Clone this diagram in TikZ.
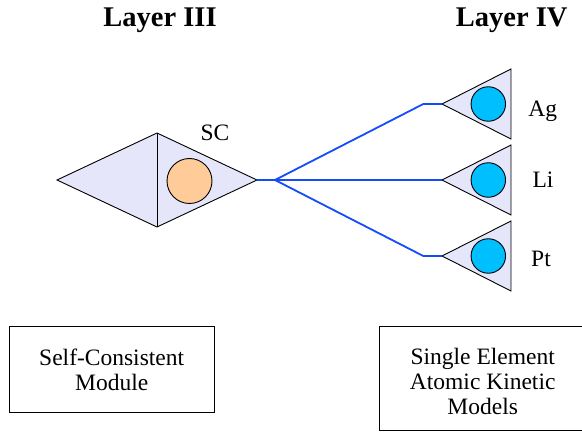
\documentclass[tikz,border=0pt]{standalone}
\usepackage{fontspec}
\setmainfont{Liberation Serif}
\definecolor{lav}{HTML}{E6E6FA}
\definecolor{orng}{HTML}{FFCC99}
\definecolor{cyn}{HTML}{00BFFF}
\definecolor{lnk}{RGB}{20,75,250}
\begin{document}
\begin{tikzpicture}[x=1pt,y=-1pt,
  shapeline/.style={draw=black,line width=0.9pt,line join=miter},
  ball/.style={circle,draw=black,line width=0.9pt,inner sep=0pt},
  link/.style={draw=lnk,line width=1.8pt},
  lbl/.style={font=\fontsize{23.5}{25}\selectfont,inner sep=0pt,anchor=base},
  ttl/.style={font=\fontsize{28.5}{30}\selectfont\bfseries,inner sep=0pt,anchor=base},
  boxtext/.style={font=\fontsize{23.5}{25}\selectfont,inner sep=0pt,align=center},
  modbox/.style={draw=black,line width=0.9pt,inner sep=0pt}]
\useasboundingbox (0,0) rectangle (582,433);
% titles
\node[ttl] (t3) at (160,26.7) {Layer III};
\node[ttl] (t4) at (511.7,26.7) {Layer IV};
% diamond
\coordinate (dl) at (57,180);
\coordinate (dt) at (157,133);
\coordinate (db) at (157,227);
\coordinate (dr) at (257,180);
\filldraw[shapeline,fill=lav] (dl) -- (dt) -- (dr) -- (db) -- cycle;
\draw[shapeline] (dt) -- (db);
\node[ball,fill=orng,minimum size=45pt] (sc) at (189.5,181) {};
\node[lbl] (sclbl) at (215,140.7) {SC};
% triangles
\foreach \n/\y in {ag/104, li/180, pt/256}{
  \coordinate (\n p) at (442,\y);
  \filldraw[shapeline,fill=lav] (\n p) -- (511,\y-35) -- (511,\y+35) -- cycle;
  \node[ball,fill=cyn,minimum size=34.5pt] (\n) at (488.3,\y) {};
}
\node[lbl] (aglbl) at (542.7,117) {Ag};
\node[lbl] (lilbl) at (543,187.7) {Li};
\node[lbl] (ptlbl) at (541,266.7) {Pt};
% connectors
\coordinate (fork) at (275,180);
\coordinate (kag) at (423.3,104);
\coordinate (kpt) at (423.3,256);
\draw[link] (dr) -- (fork);
\draw[link] (fork) -- (kag) -- (agp);
\draw[link] (fork) -- (lip);
\draw[link] (fork) -- (kpt) -- (ptp);
% boxes
\node[modbox,minimum width=205pt,minimum height=85.6pt] (scm) at (111.7,369.5) {};
\node[boxtext] (scmt) at (111.7,369.5) {Self-Consistent\\Module};
\node[modbox,minimum width=215pt,minimum height=103.3pt] (sak) at (486.5,378.3) {};
\node[boxtext] (sakt) at (482.7,381.5) {Single Element\\Atomic Kinetic\\Models};
\end{tikzpicture}
\end{document}
